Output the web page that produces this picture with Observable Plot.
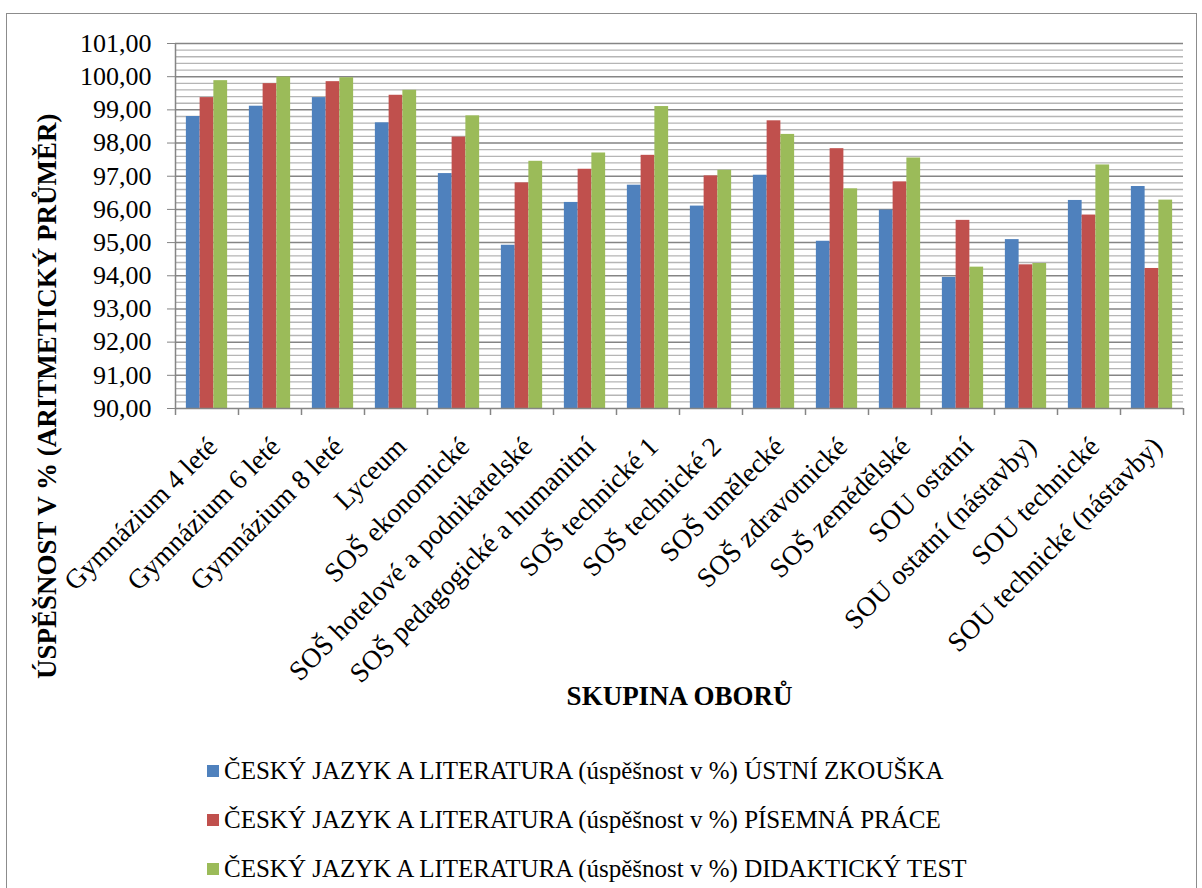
<!DOCTYPE html>
<html>
<head>
<meta charset="utf-8">
<script src="https://cdn.jsdelivr.net/npm/d3@7"></script>
<script src="https://cdn.jsdelivr.net/npm/@observablehq/plot@0.6"></script>
<style>
  html, body { margin: 0; padding: 0; background: #fff; width: 1202px; height: 888px; overflow: hidden; }
  body { position: relative; font-family: "Liberation Serif", "DejaVu Serif", serif; }
  #chart { position: absolute; left: 0; top: 0; }
  #frame { position: absolute; left: 6px; top: 13px; width: 1191px; height: 900px; border: 1.5px solid #8c8c8c; box-sizing: border-box; pointer-events: none; }
  .lg { position: absolute; left: 207px; height: 30px; display: flex; align-items: center; font-size: 25px; color: #000; white-space: nowrap; font-family: "Liberation Serif", "DejaVu Serif", serif; }
  .lg .sw { width: 12px; height: 12px; margin-right: 5px; flex: none; }
</style>
</head>
<body>
<div id="chart"></div>
<div id="legend"></div>
<div id="frame"></div>
<script>
const categories = [
  "Gymnázium 4 leté", "Gymnázium 6 leté", "Gymnázium 8 leté", "Lyceum",
  "SOŠ ekonomické", "SOŠ hotelové a podnikatelské", "SOŠ pedagogické a humanitní",
  "SOŠ technické 1", "SOŠ technické 2", "SOŠ umělecké", "SOŠ zdravotnické",
  "SOŠ zemědělské", "SOU ostatní", "SOU ostatní (nástavby)", "SOU technické",
  "SOU technické (nástavby)"
];
const ustniZkouska = [98.80, 99.11, 99.37, 98.61, 97.08, 94.92, 96.21, 96.73, 96.10, 97.03, 95.04, 95.98, 93.95, 95.09, 96.27, 96.69];
const pisemnaPrace = [99.37, 99.79, 99.85, 99.44, 98.18, 96.80, 97.21, 97.63, 97.01, 98.67, 97.83, 96.83, 95.67, 94.33, 95.83, 94.22];
const didaktickyTest = [99.88, 99.99, 99.97, 99.59, 98.82, 97.45, 97.70, 99.10, 97.18, 98.26, 96.62, 97.55, 94.26, 94.37, 97.34, 96.28];
const seriesNames = [
  "ČESKÝ JAZYK A LITERATURA (úspěšnost v %) ÚSTNÍ ZKOUŠKA",
  "ČESKÝ JAZYK A LITERATURA (úspěšnost v %) PÍSEMNÁ PRÁCE",
  "ČESKÝ JAZYK A LITERATURA (úspěšnost v %) DIDAKTICKÝ TEST"
];
const seriesColors = ["#4F81BD", "#C0504D", "#9BBB59"];
const yTicks = [90, 91, 92, 93, 94, 95, 96, 97, 98, 99, 100, 101];
const yTitle = "ÚSPĚŠNOST V % (ARITMETICKÝ PRŮMĚR)";
const xTitle = "SKUPINA OBORŮ";

const seriesValues = [ustniZkouska, pisemnaPrace, didaktickyTest];
const tables = seriesValues.map(vals => categories.map((c, i) => ({cat: c, value: vals[i]})));
const minorTicks = d3.range(0, 56).map(k => 90 + k * 0.2).filter(v => Math.abs(v - Math.round(v)) > 1e-6);

const W = 1202, H = 730;
const mL = 175, mR = 19, mT = 43, mB = 322;
const step = (W - mL - mR) / categories.length;
const barW = step * 0.2183;
const pad = (step - 3 * barW) / 2;
const font = "Liberation Serif, DejaVu Serif, serif";

const barMarks = tables.map((t, i) => Plot.barY(t, {
  x: "cat", y1: 90, y2: "value", fill: seriesColors[i],
  insetLeft: pad + i * barW, insetRight: step - pad - (i + 1) * barW
}));

const chart = Plot.plot({
  width: W, height: H,
  marginLeft: mL, marginRight: mR, marginTop: mT, marginBottom: mB,
  style: {fontFamily: font, fontSize: "26px", background: "transparent", color: "#000", overflow: "visible"},
  x: {domain: categories, padding: 0, axis: null},
  y: {domain: [90, 101], axis: null},
  marks: [
    Plot.ruleY(minorTicks, {stroke: "#b5b5b5", strokeWidth: 1.3}),
    Plot.ruleY(yTicks.filter(d => d > 90), {stroke: "#858585", strokeWidth: 1.5}),
    ...barMarks,
    Plot.ruleY([90], {stroke: "#858585", strokeWidth: 1.5}),
    Plot.ruleX([categories[0]], {y1: 90, y2: 101, dx: -step / 2, stroke: "#858585", strokeWidth: 1.5}),
    Plot.ruleX(categories, {y1: 90, y2: 90, insetBottom: -7, dx: -step / 2, stroke: "#858585", strokeWidth: 1.5}),
    Plot.ruleX([categories[categories.length - 1]], {y1: 90, y2: 90, insetBottom: -7, dx: step / 2, stroke: "#858585", strokeWidth: 1.5}),
    Plot.axisY({ticks: yTicks, tickSize: 8, tickPadding: 16, stroke: "#858585", tickFormat: d => d.toFixed(2).replace(".", ","), fontSize: 26, label: null, fill: "#000"}),
    Plot.text(categories, {x: d => d, frameAnchor: "bottom", rotate: -45, textAnchor: "end", lineAnchor: "top", dx: -2, dy: 26, fontSize: 27.5, fill: "#000"}),
    Plot.text([yTitle], {frameAnchor: "top-left", rotate: -90, textAnchor: "end", lineAnchor: "middle", dx: 47 - mL, dy: 113 - mT, fontSize: 27, fontWeight: "bold", fill: "#000"}),
    Plot.text([xTitle], {frameAnchor: "bottom", dy: 296, fontSize: 27, fontWeight: "bold", fill: "#000"})
  ]
});
document.getElementById("chart").appendChild(chart);

const legend = document.getElementById("legend");
const rowY = [771, 820, 869];
seriesNames.forEach((name, i) => {
  const row = document.createElement("div");
  row.className = "lg";
  row.style.top = (rowY[i] - 15) + "px";
  const sw = document.createElement("span");
  sw.className = "sw";
  sw.style.background = seriesColors[i];
  const tx = document.createElement("span");
  tx.textContent = name;
  row.appendChild(sw);
  row.appendChild(tx);
  legend.appendChild(row);
});
</script>
</body>
</html>
